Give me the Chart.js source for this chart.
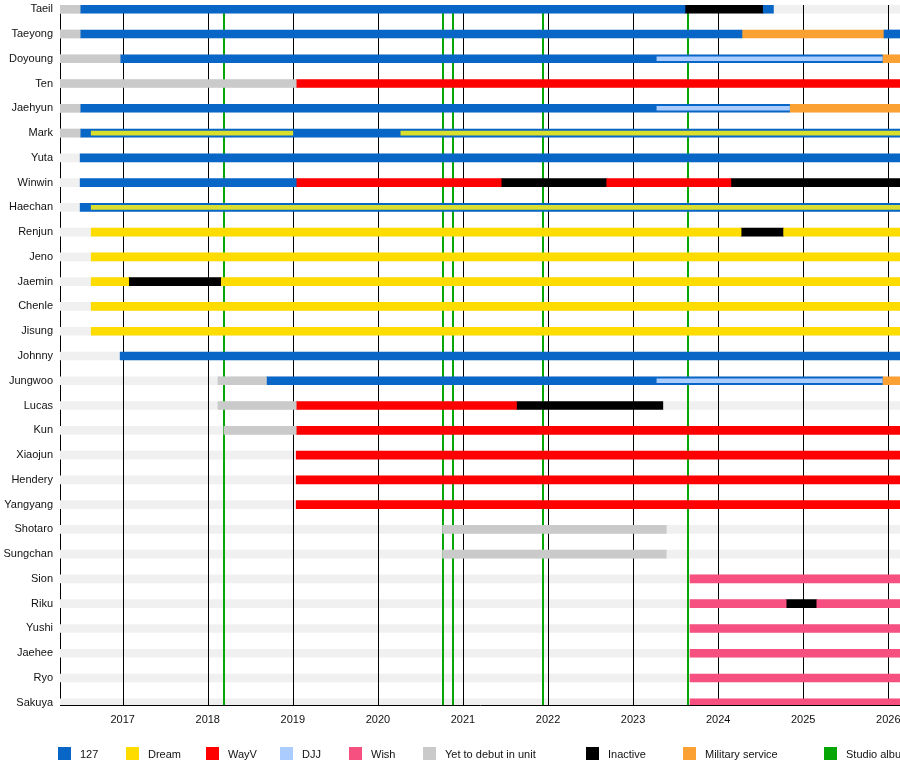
<!DOCTYPE html>
<html>
<head>
<meta charset="utf-8">
<script src="https://cdn.jsdelivr.net/npm/chart.js@4.4.1/dist/chart.umd.min.js"></script>
<style>
  body { margin: 0; width: 900px; height: 765px; overflow: hidden; background: #fff; font-family: "Liberation Sans", Arial, sans-serif; }
  #wrap { position: relative; width: 900px; height: 765px; }
  #legend { position: absolute; left: 0; top: 747px; width: 900px; height: 14px; font-size: 11px; color: #111; white-space: nowrap; }
  .item { position: absolute; top: 0; height: 13px; line-height: 13px; }
  .item span.box { position: absolute; left: 0; top: 0; width: 13px; height: 13px; }
  .item span.txt { position: absolute; left: 22px; top: 1px; }
</style>
</head>
<body>
<div id="wrap">
  <canvas id="timeline" width="900" height="765"></canvas>
  <div id="legend"></div>
</div>
<script>
// rows, top to bottom
const members = ['Taeil', 'Taeyong', 'Doyoung', 'Ten', 'Jaehyun', 'Mark', 'Yuta', 'Winwin', 'Haechan',
  'Renjun', 'Jeno', 'Jaemin', 'Chenle', 'Jisung', 'Johnny', 'Jungwoo', 'Lucas', 'Kun', 'Xiaojun',
  'Hendery', 'Yangyang', 'Shotaro', 'Sungchan', 'Sion', 'Riku', 'Yushi', 'Jaehee', 'Ryo', 'Sakuya'];

const START = 2016.26;
const END = 2026.3; // still going past the right edge

const tickYears = [2017, 2018, 2019, 2020, 2021, 2022, 2023, 2024, 2025, 2026];
const studioAlbums = [2018.19, 2020.76, 2020.88, 2021.94, 2023.65];

// [member, from, to] in decimal years
const yetToDebut = [
  ['Taeil', START, 2016.50], ['Taeyong', START, 2016.50], ['Doyoung', START, 2016.97],
  ['Ten', START, 2019.04], ['Jaehyun', START, 2016.50], ['Mark', START, 2016.50],
  ['Jungwoo', 2018.12, 2018.69], ['Lucas', 2018.12, 2019.04], ['Kun', 2018.19, 2019.04],
  ['Shotaro', 2020.76, 2023.39], ['Sungchan', 2020.76, 2023.39]
];
const nct127 = [
  ['Taeil', 2016.50, 2023.61], ['Taeil', 2024.53, 2024.65],
  ['Taeyong', 2016.50, 2024.28], ['Taeyong', 2025.95, END],
  ['Doyoung', 2016.97, 2025.93], ['Jaehyun', 2016.50, 2024.84],
  ['Mark', 2016.50, END], ['Yuta', 2016.50, END], ['Winwin', 2016.50, 2019.04],
  ['Haechan', 2016.50, END], ['Johnny', 2016.97, END], ['Jungwoo', 2018.69, 2025.93]
];
const dream = [
  ['Renjun', 2016.63, 2024.27], ['Renjun', 2024.77, END], ['Jeno', 2016.63, END],
  ['Jaemin', 2016.63, 2017.07], ['Jaemin', 2018.16, END],
  ['Chenle', 2016.63, END], ['Jisung', 2016.63, END]
];
// Dream time of members who are also in 127 (thin bar inside the blue one)
const dreamInner = [
  ['Mark', 2016.63, 2019.00], ['Mark', 2020.27, END], ['Haechan', 2016.63, END]
];
const wayv = [
  ['Ten', 2019.04, END], ['Winwin', 2019.04, 2021.45], ['Winwin', 2022.69, 2024.15],
  ['Lucas', 2019.04, 2021.63], ['Kun', 2019.04, END], ['Xiaojun', 2019.04, END],
  ['Hendery', 2019.04, END], ['Yangyang', 2019.04, END]
];
const djj = [
  ['Doyoung', 2023.28, 2025.93], ['Jaehyun', 2023.28, 2024.84], ['Jungwoo', 2023.28, 2025.93]
];
const wish = [
  ['Sion', 2023.67, END], ['Riku', 2023.67, 2024.80], ['Riku', 2025.16, END],
  ['Yushi', 2023.67, END], ['Jaehee', 2023.67, END], ['Ryo', 2023.67, END], ['Sakuya', 2023.67, END]
];
const inactive = [
  ['Taeil', 2023.61, 2024.53], ['Winwin', 2021.45, 2022.69], ['Winwin', 2024.15, END],
  ['Renjun', 2024.27, 2024.77], ['Jaemin', 2017.07, 2018.16], ['Lucas', 2021.63, 2023.35],
  ['Riku', 2024.80, 2025.16]
];
const military = [
  ['Taeyong', 2024.28, 2025.95], ['Doyoung', 2025.93, END], ['Jaehyun', 2024.84, END],
  ['Jungwoo', 2025.93, END]
];

const legendLabels = ['127', 'Dream', 'WayV', 'DJJ', 'Wish', 'Yet to debut in unit', 'Inactive', 'Military service', 'Studio album'];
const legendColors = ['#0866c6', '#fedc00', '#fe0000', '#aaccff', '#f5507f', '#cacaca', '#000000', '#fba032', '#07a607'];
const legendLeft = [58, 126, 206, 280, 349, 423, 586, 683, 824];

const toPoints = segs => segs.map(s => ({ x: [s[1], s[2]], y: members.indexOf(s[0]) }));

function makeSet(label, segs, color, thick, order) {
  return {
    label: label,
    data: toPoints(segs),
    backgroundColor: color,
    barThickness: thick,
    grouped: false,
    order: order
  };
}

const track = members.map(m => [m, START, END]);

const datasets = [
  makeSet('track', track, '#f0f0f0', 8, 30),
  makeSet('Yet to debut in unit', yetToDebut, '#cacaca', 8, 20),
  makeSet('127', nct127, '#0866c6', 8, 20),
  makeSet('Dream', dream, '#fedc00', 8, 20),
  makeSet('WayV', wayv, '#fe0000', 8, 20),
  makeSet('Wish', wish, '#f5507f', 8, 20),
  makeSet('Inactive', inactive, '#000000', 8, 20),
  makeSet('Military service', military, '#fba032', 8, 20),
  makeSet('Dream (127)', dreamInner, '#d9df2c', 4, 10),
  makeSet('DJJ', djj, '#aaccff', 4, 10)
];

// year lines and album lines go over the track but under the coloured bars
const lineLayer = {
  id: 'lineLayer',
  afterDatasetDraw(chart, args) {
    if (args.index !== 0) return;
    const { ctx, chartArea, scales } = chart;
    ctx.save();
    ctx.strokeStyle = '#000';
    ctx.lineWidth = 1;
    scales.x.ticks.forEach(t => {
      const px = Math.round(scales.x.getPixelForValue(t.value)) + 0.5;
      ctx.beginPath();
      ctx.moveTo(px, chartArea.top);
      ctx.lineTo(px, chartArea.bottom);
      ctx.stroke();
    });
    ctx.strokeStyle = '#07a607';
    ctx.lineWidth = 2;
    studioAlbums.forEach(v => {
      const px = Math.round(scales.x.getPixelForValue(v));
      ctx.beginPath();
      ctx.moveTo(px, chartArea.top);
      ctx.lineTo(px, chartArea.bottom);
      ctx.stroke();
    });
    ctx.restore();
  }
};

const font = { family: '"Liberation Sans", Arial, sans-serif', size: 11 };

new Chart(document.getElementById('timeline'), {
  type: 'bar',
  data: { datasets: datasets },
  options: {
    indexAxis: 'y',
    responsive: false,
    animation: false,
    layout: { padding: { top: 5, left: 0, right: 0, bottom: 0 } },
    plugins: { legend: { display: false }, tooltip: { enabled: false } },
    scales: {
      x: {
        type: 'linear',
        min: 2016.263,
        max: 2026.138,
        offset: false,
        grid: { display: false, drawTicks: false },
        border: { display: true, color: '#000', width: 1 },
        afterBuildTicks: s => { s.ticks = tickYears.map(v => ({ value: v })); },
        afterFit: s => { s.height = 60; s.paddingLeft = 0; s.paddingRight = 0; },
        ticks: { autoSkip: false, maxRotation: 0, padding: 8, color: '#111', font: font, callback: v => String(v) }
      },
      y: {
        type: 'linear',
        reverse: true,
        min: -0.17,
        max: 28.09,
        offset: false,
        grid: { display: false, drawTicks: false },
        border: { display: true, color: '#000', width: 1 },
        afterBuildTicks: s => { s.ticks = members.map((m, i) => ({ value: i })); },
        afterFit: s => { s.width = 60; s.paddingTop = 0; s.paddingBottom = 0; },
        ticks: { autoSkip: false, padding: 7, color: '#111', font: font, callback: v => members[v] }
      }
    }
  },
  plugins: [lineLayer]
});

// legend row at the bottom
const legend = document.getElementById('legend');
legendLabels.forEach((lab, i) => {
  const item = document.createElement('div');
  item.className = 'item';
  item.style.left = legendLeft[i] + 'px';
  item.innerHTML = '<span class="box" style="background:' + legendColors[i] + '"></span><span class="txt">' + lab + '</span>';
  legend.appendChild(item);
});
</script>
</body>
</html>
